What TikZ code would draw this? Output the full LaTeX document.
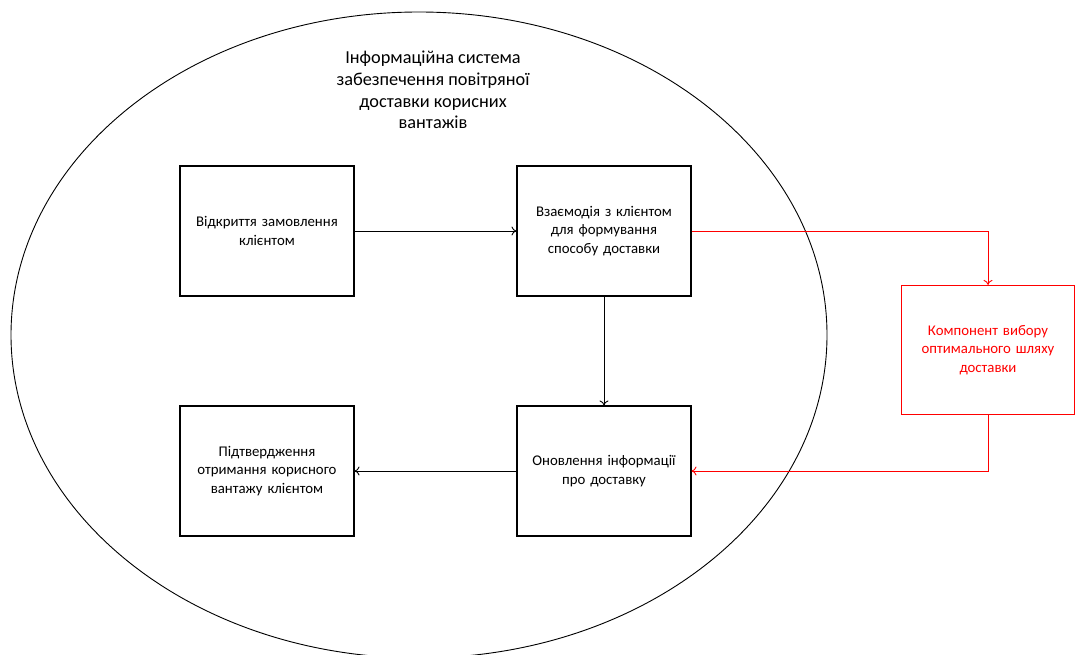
\documentclass[tikz,border=0pt]{standalone}
\usepackage{fontspec}
\setmainfont{Carlito}
\usetikzlibrary{arrows.meta}
\definecolor{redline}{RGB}{255,0,0}
\tikzset{
  stepbox/.style={draw=black, line width=1.1pt, minimum width=174pt, minimum height=130pt,
    align=center, inner sep=0pt, font=\fontsize{14.8}{18.5}\selectfont, text width=170pt},
  redbox/.style={draw=redline, text=redline, line width=1.2pt, minimum width=173pt, minimum height=129pt,
    align=center, inner sep=0pt, font=\fontsize{14.8}{18.5}\selectfont, text width=170pt},
  flow/.style={line width=0.9pt, -{To[length=5pt,width=9pt]}},
  redflow/.style={flow, draw=redline}
}
\begin{document}
\begin{tikzpicture}[x=1pt,y=-1pt]
\useasboundingbox (0,0) rectangle (1075,655);
\fill[white] (0,0) rectangle (1075,655);
% system boundary
\draw[line width=0.9pt] (419,335) ellipse [x radius=408, y radius=323];
\node[align=center, font=\fontsize{18.3}{21.8}\selectfont] (title) at (433,90)
  {Інформаційна система\\забезпечення повітряної\\доставки корисних\\вантажів};
% process steps
\node[stepbox] (open)    at (267,231) {Відкриття замовлення\\клієнтом};
\node[stepbox] (talk)    at (604,231) {Взаємодія з клієнтом\\для формування\\способу доставки};
\node[stepbox] (confirm) at (267,471) {Підтвердження\\отримання корисного\\вантажу клієнтом};
\node[stepbox] (update)  at (604,471) {Оновлення інформації\\про доставку};
\node[redbox]  (route)   at (988,350) {Компонент вибору\\оптимального шляху\\доставки};
% connectors
\draw[flow] (open.east) -- (talk.west);
\draw[flow] (talk.south) -- (update.north);
\draw[flow] (update.west) -- (confirm.east);
\draw[redflow] (talk.east) -| (route.north);
\draw[redflow] (route.south) |- (update.east);
\end{tikzpicture}
\end{document}
